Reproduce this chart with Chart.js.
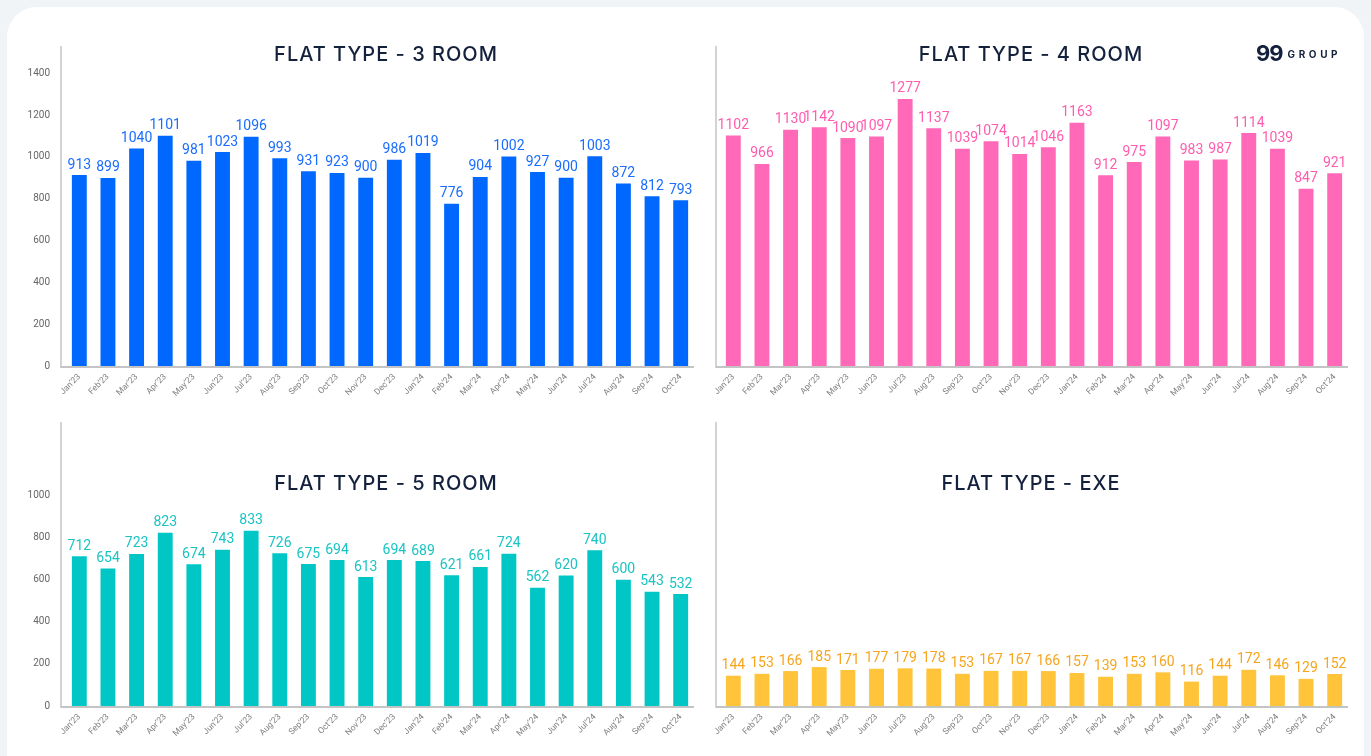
<!DOCTYPE html>
<html>
<head>
<meta charset="utf-8">
<title>Flat type transactions</title>
<script src="https://cdn.jsdelivr.net/npm/chart.js@4.4.0/dist/chart.umd.min.js"></script>
<style>
  html, body {
    margin: 0;
    padding: 0;
    width: 1371px;
    height: 756px;
    overflow: hidden;
    background: #f1f4f7;
    font-family: Inter, "Noto Sans", sans-serif;
  }
  .card {
    position: absolute;
    left: 7px;
    top: 7px;
    width: 1357px;
    height: 780px;
    background: #fff;
    border-radius: 30px;
  }
  .box { position: absolute; }
  .box canvas { display: block; }
  .title {
    position: absolute;
    transform: translate(-50%, -50%);
    font-size: 20px;
    font-weight: 500;
    letter-spacing: 1px;
    color: #14213d;
    white-space: nowrap;
  }
  .logo {
    position: absolute;
    left: 1256px;
    top: 40px;
    color: #14213d;
    white-space: nowrap;
    font-weight: 700;
  }
  .logo .nn { font-size: 22px; letter-spacing: -1px; }
  .logo .grp { font-size: 10px; letter-spacing: 3.6px; margin-left: 5px; position: relative; top: -3px; }
</style>
</head>
<body>
<div class="card"></div>

<div class="box" style="left:11px; top:46px; width:684px; height:360px;"><canvas id="room3"></canvas></div>
<div class="box" style="left:665px; top:46px; width:684px; height:360px;"><canvas id="room4"></canvas></div>
<div class="box" style="left:11px; top:422px; width:684px; height:324px;"><canvas id="room5"></canvas></div>
<div class="box" style="left:665px; top:422px; width:684px; height:324px;"><canvas id="exe"></canvas></div>

<div class="title" style="left:386px; top:54px;">FLAT TYPE - 3 ROOM</div>
<div class="title" style="left:1031px; top:54px;">FLAT TYPE - 4 ROOM</div>
<div class="title" style="left:386px; top:483px;">FLAT TYPE - 5 ROOM</div>
<div class="title" style="left:1031px; top:483px;">FLAT TYPE - EXE</div>

<div class="logo"><span class="nn">99</span><span class="grp">GROUP</span></div>

<script>
const months = ["Jan’23", "Feb’23", "Mar’23", "Apr’23", "May’23", "Jun’23", "Jul’23", "Aug’23",
  "Sep’23", "Oct’23", "Nov’23", "Dec’23", "Jan’24", "Feb’24", "Mar’24", "Apr’24", "May’24",
  "Jun’24", "Jul’24", "Aug’24", "Sep’24", "Oct’24"];

const room3 = [913, 899, 1040, 1101, 981, 1023, 1096, 993, 931, 923, 900, 986, 1019, 776, 904, 1002, 927, 900, 1003, 872, 812, 793];
const room4 = [1102, 966, 1130, 1142, 1090, 1097, 1277, 1137, 1039, 1074, 1014, 1046, 1163, 912, 975, 1097, 983, 987, 1114, 1039, 847, 921];
const room5 = [712, 654, 723, 823, 674, 743, 833, 726, 675, 694, 613, 694, 689, 621, 661, 724, 562, 620, 740, 600, 543, 532];
const exe = [144, 153, 166, 185, 171, 177, 179, 178, 153, 167, 167, 166, 157, 139, 153, 160, 116, 144, 172, 146, 129, 152];

const topTicks = [0, 200, 400, 600, 800, 1000, 1200, 1400];
const bottomTicks = [0, 200, 400, 600, 800, 1000];

// axis lines sit a few pixels left of the first bar slot
const axisLines = {
  id: 'axisLines',
  beforeDatasetsDraw(chart, args, opts) {
    const { ctx, chartArea: a } = chart;
    const gap = opts.gap;
    ctx.save();
    ctx.strokeStyle = '#c4c4c4';
    ctx.lineWidth = 1.5;
    ctx.beginPath();
    ctx.moveTo(a.left - gap, a.top);
    ctx.lineTo(a.left - gap, a.bottom);
    ctx.stroke();
    ctx.lineWidth = 2;
    ctx.beginPath();
    ctx.moveTo(a.left - gap - 0.75, a.bottom + 1);
    ctx.lineTo(a.right - 1, a.bottom + 1);
    ctx.stroke();
    ctx.restore();
  }
};

// value printed above every bar
const valueLabels = {
  id: 'valueLabels',
  afterDatasetsDraw(chart, args, opts) {
    const ctx = chart.ctx;
    const meta = chart.getDatasetMeta(0);
    const values = chart.data.datasets[0].data;
    ctx.save();
    ctx.font = '400 14px Roboto, sans-serif';
    ctx.fillStyle = opts.color;
    ctx.textAlign = 'center';
    ctx.textBaseline = 'bottom';
    meta.data.forEach((bar, i) => ctx.fillText(values[i], bar.x, bar.y - 3));
    ctx.restore();
  }
};

function makeChart(id, values, barColor, labelColor, yMax, ticks, showTicks, gap) {
  return new Chart(document.getElementById(id), {
    type: 'bar',
    data: {
      labels: months,
      datasets: [{
        data: values,
        backgroundColor: barColor,
        borderWidth: 0,
        categoryPercentage: 1,
        barPercentage: 0.52
      }]
    },
    options: {
      responsive: true,
      maintainAspectRatio: false,
      animation: false,
      layout: { padding: 0 },
      plugins: {
        legend: { display: false },
        tooltip: { enabled: false },
        axisLines: { gap: gap },
        valueLabels: { color: labelColor }
      },
      scales: {
        x: {
          grid: { display: false, drawTicks: false },
          border: { display: false },
          ticks: {
            autoSkip: false,
            minRotation: 45,
            maxRotation: 45,
            padding: 6,
            color: '#808080',
            font: { family: 'Roboto', size: 8.5 }
          },
          afterFit(scale) {
            scale.height = 40;
            scale.paddingLeft = 0;
            scale.paddingRight = 0;
          }
        },
        y: {
          min: 0,
          max: yMax,
          grid: { display: false, drawTicks: false },
          border: { display: false },
          ticks: {
            display: showTicks,
            stepSize: 200,
            padding: 15,
            color: '#666',
            font: { family: 'Roboto', size: 10 },
            callback: v => ticks.includes(v) ? v : ''
          },
          afterFit(scale) {
            scale.width = 54;
            scale.paddingTop = 0;
            scale.paddingBottom = 0;
          }
        }
      }
    },
    plugins: [axisLines, valueLabels]
  });
}

makeChart('room3', room3, '#0068ff', '#1a6dff', 1530, topTicks, true, 4);
makeChart('room4', room4, '#ff69b8', '#ff5cae', 1530, topTicks, false, 3);
makeChart('room5', room5, '#00c7c6', '#1ac4c4', 1350, bottomTicks, true, 4);
makeChart('exe', exe, '#ffc43a', '#f7a51c', 1350, bottomTicks, false, 3);
</script>
</body>
</html>
